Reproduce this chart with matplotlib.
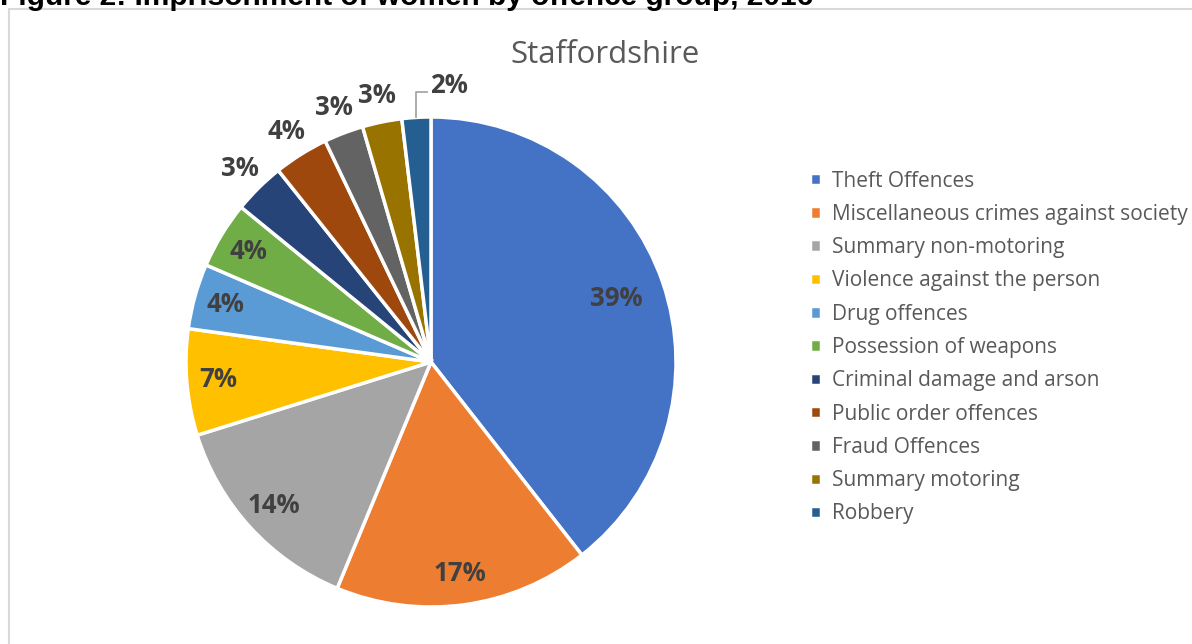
import numpy as np
import matplotlib.pyplot as plt
from matplotlib.patches import Rectangle

# offence groups, share of women imprisoned (Staffordshire)
groups = ['Theft Offences', 'Miscellaneous crimes against society', 'Summary non-motoring',
          'Violence against the person', 'Drug offences', 'Possession of weapons',
          'Criminal damage and arson', 'Public order offences', 'Fraud Offences',
          'Summary motoring', 'Robbery']
shares = [39.4, 16.8, 13.9, 7.0, 4.3, 4.4, 3.4, 3.6, 2.6, 2.6, 1.9]
colors = ['#4472C4', '#ED7D31', '#A5A5A5', '#FFC000', '#5B9BD5', '#70AD47',
          '#264478', '#9E480E', '#636363', '#997300', '#255E91']

plt.rcParams['font.family'] = ['Open Sans', 'DejaVu Sans']

W, H = 1192, 644
fig = plt.figure(figsize=(W / 100, H / 100), dpi=100)

# cropped figure caption at the very top
fig.text(0.0, 1 - 5 / H, 'Figure 2: Imprisonment of women by offence group, 2016',
         family='Liberation Sans', weight='bold', fontsize=21.5, color='black',
         ha='left', va='baseline')

# chart area border
fig.patches.append(Rectangle((9 / W, -0.05), 1.2, 1 - 9 / H + 0.05, transform=fig.transFigure,
                             fill=False, edgecolor='#D9D9D9', linewidth=1.5))

# pie axes: centre (431, 362) px, radius 245 px
cx, cy, R, k = 431, 362, 245, 1.3
side = 2 * R * k
ax = fig.add_axes([(cx - side / 2) / W, (H - cy - side / 2) / H, side / W, side / H])

wedges, _ = ax.pie(shares, colors=colors, startangle=90, counterclock=False,
                   wedgeprops=dict(edgecolor='white', linewidth=2.5))
ax.set_xlim(-k, k)
ax.set_ylim(-k, k)
ax.set_aspect('equal')
ax.axis('off')

lbl_size = 18.5
total = sum(shares)
for i, (w, v) in enumerate(zip(wedges, shares)):
    pct = 100 * v / total
    ang = np.deg2rad((w.theta1 + w.theta2) / 2)
    txt = '%.0f%%' % pct
    style = dict(fontsize=lbl_size, weight='bold', color='#404040', ha='center', va='center')
    if i == len(shares) - 1:
        # smallest slice: label above with a leader line
        x0, y0 = np.cos(ang), np.sin(ang)
        ax.plot([x0, x0, x0 + 0.045], [y0, 1.1, 1.1], color='#A6A6A6', lw=1.3)
        ax.text(x0 + 0.055, 1.13, txt, ha='left', va='center', fontsize=lbl_size,
                weight='bold', color='#404040')
    elif pct >= 4:
        d = 0.8 if i == 0 else 0.87
        ax.text(d * np.cos(ang), d * np.sin(ang), txt, **style)
    else:
        d = 1.11
        ax.text(d * np.cos(ang), d * np.sin(ang), txt, **style)

fig.text(605 / W, 1 - 55 / H, 'Staffordshire', fontsize=22.5, color='#595959',
         ha='center', va='center')

leg = ax.legend(wedges, groups, loc='center left', bbox_to_anchor=(810 / W, 1 - 347.5 / H),
                bbox_transform=fig.transFigure, frameon=False, fontsize=15,
                labelcolor='#595959', handlelength=0.55, handleheight=0.55,
                handletextpad=0.5, labelspacing=0.59, borderpad=0, borderaxespad=0)

fig.savefig('out.png', dpi=100)
